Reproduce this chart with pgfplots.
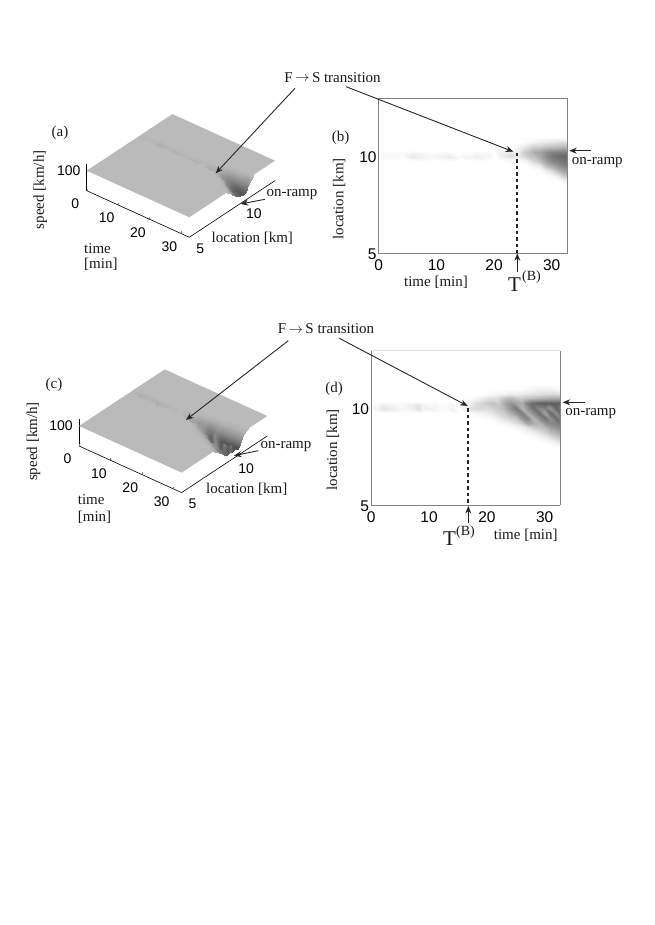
\documentclass[border=0pt]{standalone}
\usepackage{pgfplots}
\usepackage{pgfplotstable}
\usepackage{fontspec}
\pgfplotsset{compat=1.18}
\setmainfont{Liberation Serif}
\newfontfamily\ar{Liberation Sans}
\usetikzlibrary{arrows.meta}
\definecolor{plane}{RGB}{186,186,186}
\definecolor{frame}{RGB}{130,130,130}
\pgfplotstableread[row sep=\\]{t s v\\
0 9.75 100\\0 9.95 98\\0 10.15 99\\0 10.35 100\\
1 9.75 100\\1 9.95 96\\1 10.15 96\\1 10.35 100\\
2 9.75 100\\2 9.95 95\\2 10.15 97\\2 10.35 100\\
3 9.75 100\\3 9.95 96\\3 10.15 95\\3 10.35 100\\
4 9.75 100\\4 9.95 98\\4 10.15 96\\4 10.35 100\\
5 9.75 100\\5 9.95 92\\5 10.15 94\\5 10.35 100\\
6 9.75 100\\6 9.95 88\\6 10.15 90\\6 10.35 100\\
7 9.75 100\\7 9.95 90\\7 10.15 92\\7 10.35 100\\
8 9.75 100\\8 9.95 93\\8 10.15 95\\8 10.35 100\\
9 9.75 100\\9 9.95 96\\9 10.15 97\\9 10.35 100\\
10 9.75 100\\10 9.95 93\\10 10.15 95\\10 10.35 100\\
11 9.75 100\\11 9.95 93\\11 10.15 95\\11 10.35 100\\
12 9.75 100\\12 9.95 88\\12 10.15 94\\12 10.35 100\\
13 9.75 100\\13 9.95 92\\13 10.15 98\\13 10.35 100\\
14 9.75 100\\14 9.95 97\\14 10.15 99\\14 10.35 100\\
15 9.75 100\\15 9.95 92\\15 10.15 96\\15 10.35 100\\
16 9.75 100\\16 9.95 93\\16 10.15 97\\16 10.35 100\\
17 9.75 100\\17 9.95 91\\17 10.15 93\\17 10.35 100\\
18 9.75 100\\18 9.95 93\\18 10.15 95\\18 10.35 100\\
19 9.75 100\\19 9.95 95\\19 10.15 94\\19 10.35 100\\
20 9.75 100\\20 9.95 100\\20 10.15 100\\20 10.35 100\\
}\stripB
\pgfplotstableread[row sep=\\]{t s v\\
20 8.5 100\\20 8.75 100\\20 9 100\\20 9.25 100\\20 9.5 100\\20 9.75 100\\20 10 100\\20 10.25 100\\20 10.5 100\\20 10.75 100\\20 11 100\\
21 8.5 100\\21 8.75 100\\21 9 100\\21 9.25 100\\21 9.5 100\\21 9.75 100\\21 10 92\\21 10.25 92\\21 10.5 100\\21 10.75 100\\21 11 100\\
22 8.5 100\\22 8.75 100\\22 9 100\\22 9.25 100\\22 9.5 100\\22 9.75 98\\22 10 86\\22 10.25 90\\22 10.5 100\\22 10.75 100\\22 11 100\\
23 8.5 100\\23 8.75 100\\23 9 100\\23 9.25 100\\23 9.5 100\\23 9.75 97\\23 10 82\\23 10.25 88\\23 10.5 100\\23 10.75 100\\23 11 100\\
24 8.5 100\\24 8.75 100\\24 9 100\\24 9.25 100\\24 9.5 100\\24 9.75 100\\24 10 88\\24 10.25 92\\24 10.5 98\\24 10.75 100\\24 11 100\\
25 8.5 100\\25 8.75 100\\25 9 100\\25 9.25 100\\25 9.5 100\\25 9.75 96\\25 10 82\\25 10.25 78\\25 10.5 88\\25 10.75 100\\25 11 100\\
26 8.5 100\\26 8.75 100\\26 9 100\\26 9.25 100\\26 9.5 98\\26 9.75 88\\26 10 72\\26 10.25 70\\26 10.5 82\\26 10.75 96\\26 11 100\\
27 8.5 100\\27 8.75 100\\27 9 100\\27 9.25 100\\27 9.5 94\\27 9.75 80\\27 10 70\\27 10.25 62\\27 10.5 76\\27 10.75 92\\27 11 100\\
28 8.5 100\\28 8.75 100\\28 9 100\\28 9.25 98\\28 9.5 88\\28 9.75 70\\28 10 60\\28 10.25 58\\28 10.5 76\\28 10.75 90\\28 11 100\\
29 8.5 100\\29 8.75 100\\29 9 100\\29 9.25 90\\29 9.5 72\\29 9.75 56\\29 10 48\\29 10.25 50\\29 10.5 72\\29 10.75 88\\29 11 100\\
30 8.5 100\\30 8.75 100\\30 9 96\\30 9.25 82\\30 9.5 62\\30 9.75 46\\30 10 40\\30 10.25 44\\30 10.5 70\\30 10.75 86\\30 11 100\\
31 8.5 100\\31 8.75 100\\31 9 88\\31 9.25 70\\31 9.5 52\\31 9.75 42\\31 10 36\\31 10.25 42\\31 10.5 68\\31 10.75 84\\31 11 100\\
32 8.5 100\\32 8.75 94\\32 9 78\\32 9.25 60\\32 9.5 46\\32 9.75 38\\32 10 34\\32 10.25 42\\32 10.5 66\\32 10.75 82\\32 11 100\\
32.7 8.5 100\\32.7 8.75 90\\32.7 9 72\\32.7 9.25 54\\32.7 9.5 44\\32.7 9.75 38\\32.7 10 34\\32.7 10.25 42\\32.7 10.5 66\\32.7 10.75 84\\32.7 11 100\\
}\blockB
\pgfplotstableread[row sep=\\]{t s v\\
0 9.75 100\\0 9.95 98\\0 10.15 99\\0 10.35 100\\
1 9.75 100\\1 9.95 92\\1 10.15 96\\1 10.35 100\\
2 9.75 100\\2 9.95 86\\2 10.15 88\\2 10.35 100\\
3 9.75 100\\3 9.95 88\\3 10.15 92\\3 10.35 100\\
4 9.75 100\\4 9.95 90\\4 10.15 94\\4 10.35 100\\
5 9.75 100\\5 9.95 95\\5 10.15 95\\5 10.35 100\\
6 9.75 100\\6 9.95 94\\6 10.15 92\\6 10.35 100\\
7 9.75 100\\7 9.95 92\\7 10.15 90\\7 10.35 100\\
8 9.75 100\\8 9.95 84\\8 10.15 86\\8 10.35 100\\
9 9.75 100\\9 9.95 93\\9 10.15 92\\9 10.35 100\\
10 9.75 100\\10 9.95 92\\10 10.15 96\\10 10.35 100\\
11 9.75 100\\11 9.95 93\\11 10.15 94\\11 10.35 100\\
12 9.75 100\\12 9.95 98\\12 10.15 98\\12 10.35 100\\
13 9.75 100\\13 9.95 97\\13 10.15 98\\13 10.35 100\\
14 9.75 100\\14 9.95 92\\14 10.15 95\\14 10.35 100\\
15 9.75 100\\15 9.95 100\\15 10.15 100\\15 10.35 100\\
}\stripD
\pgfplotstableread[row sep=\\]{t s v\\
15 8 100\\15 8.25 100\\15 8.5 100\\15 8.75 100\\15 9 100\\15 9.25 100\\15 9.5 100\\15 9.75 100\\15 10 100\\15 10.25 100\\15 10.5 100\\15 10.75 100\\15 11 100\\15 11.25 100\\
16 8 100\\16 8.25 100\\16 8.5 100\\16 8.75 100\\16 9 100\\16 9.25 100\\16 9.5 100\\16 9.75 100\\16 10 92\\16 10.25 96\\16 10.5 100\\16 10.75 100\\16 11 100\\16 11.25 100\\
17 8 100\\17 8.25 100\\17 8.5 100\\17 8.75 100\\17 9 100\\17 9.25 100\\17 9.5 100\\17 9.75 98\\17 10 84\\17 10.25 92\\17 10.5 100\\17 10.75 100\\17 11 100\\17 11.25 100\\
18 8 100\\18 8.25 100\\18 8.5 100\\18 8.75 100\\18 9 100\\18 9.25 100\\18 9.5 100\\18 9.75 94\\18 10 82\\18 10.25 84\\18 10.5 96\\18 10.75 100\\18 11 100\\18 11.25 100\\
19 8 100\\19 8.25 100\\19 8.5 100\\19 8.75 100\\19 9 100\\19 9.25 100\\19 9.5 100\\19 9.75 92\\19 10 80\\19 10.25 80\\19 10.5 90\\19 10.75 100\\19 11 100\\19 11.25 100\\
20 8 100\\20 8.25 100\\20 8.5 100\\20 8.75 100\\20 9 100\\20 9.25 100\\20 9.5 98\\20 9.75 90\\20 10 82\\20 10.25 74\\20 10.5 86\\20 10.75 98\\20 11 100\\20 11.25 100\\
21 8 100\\21 8.25 100\\21 8.5 100\\21 8.75 100\\21 9 100\\21 9.25 100\\21 9.5 94\\21 9.75 86\\21 10 78\\21 10.25 72\\21 10.5 84\\21 10.75 96\\21 11 100\\21 11.25 100\\
22 8 100\\22 8.25 100\\22 8.5 100\\22 8.75 100\\22 9 100\\22 9.25 98\\22 9.5 90\\22 9.75 80\\22 10 74\\22 10.25 76\\22 10.5 82\\22 10.75 94\\22 11 100\\22 11.25 100\\
23 8 100\\23 8.25 100\\23 8.5 100\\23 8.75 100\\23 9 100\\23 9.25 94\\23 9.5 84\\23 9.75 76\\23 10 66\\23 10.25 62\\23 10.5 72\\23 10.75 92\\23 11 100\\23 11.25 100\\
24 8 100\\24 8.25 100\\24 8.5 100\\24 8.75 100\\24 9 98\\24 9.25 90\\24 9.5 78\\24 9.75 64\\24 10 52\\24 10.25 52\\24 10.5 68\\24 10.75 88\\24 11 100\\24 11.25 100\\
25 8 100\\25 8.25 100\\25 8.5 100\\25 8.75 100\\25 9 94\\25 9.25 84\\25 9.5 72\\25 9.75 52\\25 10 40\\25 10.25 58\\25 10.5 74\\25 10.75 90\\25 11 100\\25 11.25 100\\
26 8 100\\26 8.25 100\\26 8.5 100\\26 8.75 98\\26 9 90\\26 9.25 74\\26 9.5 52\\26 9.75 42\\26 10 66\\26 10.25 62\\26 10.5 76\\26 10.75 88\\26 11 98\\26 11.25 100\\
27 8 100\\27 8.25 100\\27 8.5 100\\27 8.75 94\\27 9 84\\27 9.25 58\\27 9.5 44\\27 9.75 64\\27 10 52\\27 10.25 44\\27 10.5 72\\27 10.75 86\\27 11 96\\27 11.25 100\\
28 8 100\\28 8.25 100\\28 8.5 98\\28 8.75 90\\28 9 76\\28 9.25 62\\28 9.5 66\\28 9.75 50\\28 10 36\\28 10.25 34\\28 10.5 70\\28 10.75 84\\28 11 94\\28 11.25 100\\
29 8 100\\29 8.25 100\\29 8.5 94\\29 8.75 84\\29 9 72\\29 9.25 66\\29 9.5 48\\29 9.75 36\\29 10 46\\29 10.25 30\\29 10.5 68\\29 10.75 84\\29 11 92\\29 11.25 100\\
30 8 100\\30 8.25 98\\30 8.5 90\\30 8.75 78\\30 9 66\\30 9.25 50\\30 9.5 38\\30 9.75 58\\30 10 42\\30 10.25 28\\30 10.5 64\\30 10.75 82\\30 11 92\\30 11.25 100\\
31 8 100\\31 8.25 94\\31 8.5 84\\31 8.75 70\\31 9 56\\31 9.25 46\\31 9.5 50\\31 9.75 34\\31 10 52\\31 10.25 30\\31 10.5 62\\31 10.75 82\\31 11 92\\31 11.25 100\\
32 8 98\\32 8.25 90\\32 8.5 76\\32 8.75 62\\32 9 50\\32 9.25 44\\32 9.5 36\\32 9.75 48\\32 10 32\\32 10.25 30\\32 10.5 62\\32 10.75 82\\32 11 94\\32 11.25 100\\
32.7 8 96\\32.7 8.25 86\\32.7 8.5 72\\32.7 8.75 58\\32.7 9 46\\32.7 9.25 40\\32.7 9.5 44\\32.7 9.75 36\\32.7 10 40\\32.7 10.25 30\\32.7 10.5 62\\32.7 10.75 84\\32.7 11 96\\32.7 11.25 100\\
}\blockD
\pgfplotsset{
  every axis/.append style={/pgf/number format/assume math mode=true},
  heat/.style={scale only axis, axis on top, width=188.6pt, height=155pt, xmin=0, xmax=32.7, ymin=5, ymax=13,
    anchor=south west, xtick={0,10,20,30}, ytick={5,10},
    major tick length=0pt, axis line style={frame, line width=0.7pt},
    tick label style={font=\ar\fontsize{15.5}{16}\selectfont},
    xticklabel style={anchor=center, yshift=-12pt},
    yticklabel style={anchor=east, inner sep=0pt, xshift=-2pt, yshift=-1pt},
    colormap={hb}{rgb255(0cm)=(50,50,50); rgb255(3cm)=(95,95,95); rgb255(5cm)=(145,145,145); rgb255(7cm)=(190,190,190); rgb255(9cm)=(238,238,238); rgb255(10cm)=(255,255,255)},
    point meta min=0, point meta max=100},
  dip/.style={surf, shader=interp, point meta=\thisrow{v}},
  persp/.style={disabledatascaling, anchor=origin, clip=false,
    x={(3.138pt,-1.425pt)}, y={(10.71pt,7.075pt)}, z={(0pt,0.2pt)},
    xmin=0, xmax=32.7, ymin=5, ymax=13, zmin=0, zmax=135,
    axis x line*=bottom, axis y line=none, axis z line*=left,
    xtick={0,10,20,30}, ytick=\empty, ztick={100},
    major tick length=2pt, axis line style={black, line width=0.6pt, -},
    tick label style={font=\ar\fontsize{14}{15}\selectfont},
    xticklabel style={anchor=center, xshift=-11.5pt, yshift=-13pt},
    zticklabel style={anchor=center, xshift=-18pt},
    colormap={ga}{rgb255(0cm)=(50,50,50); rgb255(3cm)=(78,78,78); rgb255(5cm)=(112,112,112); rgb255(7cm)=(145,145,145); rgb255(9cm)=(176,176,176); rgb255(10cm)=(186,186,186)},
    point meta min=0, point meta max=100},
  yax/.style={black, line width=0.6pt, no marks},
}
\tikzset{lab/.style={font=\fontsize{15}{15}\selectfont, inner sep=0pt, text=black!90, yshift=-1.5pt},
  loc/.style={font=\ar\fontsize{14}{15}\selectfont, inner sep=0pt, xshift=11pt, yshift=-11.5pt},
  arr/.style={-{Stealth[length=7.5pt,width=6pt]}, line width=0.9pt, black!85},
  dsh/.style={black!85, line width=1.8pt, dash pattern=on 3.5pt off 3pt}}
\newcommand\FS{F\raisebox{0.5pt}{\,$\rightarrow$\,}S transition}
\begin{document}
\begin{tikzpicture}[x=1pt,y=1pt]
\path[use as bounding box] (0,0) rectangle (654,925);
% (a)
\begin{axis}[persp, at={(86.7pt,734.3pt)}]
\addplot3[fill=plane, draw=none] coordinates {(0,5,100) (32.7,5,100) (32.7,13,100) (0,13,100)};
\addplot3[dip, mesh/rows=4, mesh/cols=21, mesh/ordering=y varies] table[x=t,y=s,z=v] {\stripB};
\addplot3[dip, z buffer=sort, mesh/rows=11, mesh/cols=14, mesh/ordering=y varies] table[x=t,y=s,z=v] {\blockB};
\addplot3[yax] coordinates {(32.7,5,0) (32.7,13,0)};
\node[loc] at (axis cs:32.7,5,0) {5};
\node[loc] at (axis cs:32.7,10,0) {10};
\end{axis}
% (b)
\begin{axis}[heat, at={(378.7pt,671.7pt)}]
\addplot[dip, mesh/rows=4, mesh/cols=21, mesh/ordering=y varies] table[x=t,y=s] {\stripB};
\addplot[dip, mesh/rows=11, mesh/cols=14, mesh/ordering=y varies] table[x=t,y=s] {\blockB};
\end{axis}
% (c)
\begin{axis}[persp, at={(79pt,479pt)}]
\addplot3[fill=plane, draw=none] coordinates {(0,5,100) (32.7,5,100) (32.7,13,100) (0,13,100)};
\addplot3[dip, mesh/rows=4, mesh/cols=16, mesh/ordering=y varies] table[x=t,y=s,z=v] {\stripD};
\addplot3[dip, z buffer=sort, mesh/rows=14, mesh/cols=19, mesh/ordering=y varies] table[x=t,y=s,z=v] {\blockD};
\addplot3[yax] coordinates {(32.7,5,0) (32.7,13,0)};
\node[loc] at (axis cs:32.7,5,0) {5};
\node[loc] at (axis cs:32.7,10,0) {10};
\end{axis}
% (d)
\begin{axis}[heat, at={(371.3pt,420pt)}, width=189pt, axis x line*=bottom, axis y line*=left, axis line style={-}]
\addplot[dip, mesh/rows=4, mesh/cols=16, mesh/ordering=y varies] table[x=t,y=s] {\stripD};
\addplot[dip, mesh/rows=14, mesh/cols=19, mesh/ordering=y varies] table[x=t,y=s] {\blockD};
\end{axis}
\begin{scope}[y=-1pt, yshift=925pt]
% frame of (d)
\draw[frame, line width=0.7pt] (560.3,350.7) -- (560.3,505);
\draw[black!12, line width=0.7pt] (371.3,350.7) -- (560.3,350.7);
% titles
\node[lab] at (332.5,76) {\FS};
\node[lab] at (326,327.5) {\FS};
% (a)
\node[lab] at (60,131) {(a)};
\node[lab, rotate=90, yshift=1.5pt] at (41.7,188.3) {speed [km/h]};
\node[lab, anchor=west] at (84,246.7) {time};
\node[lab, anchor=west] at (84,263.3) {[min]};
\node[lab] at (252.3,236.7) {location [km]};
\node[lab] at (292,193.3) {on-ramp};
\draw[arr] (265,199.3) -- (240.7,204);
\draw[arr] (295,88.3) -- (215.7,173.3);
% (b)
\node[lab] at (340.7,136) {(b)};
\node[lab, rotate=90, yshift=1.5pt] at (340.7,197.3) {location [km]};
\node[lab] at (436,280.7) {time [min]};
\node[lab, font=\fontsize{21}{21}\selectfont] at (514.5,282.7) {T};
\node[lab, font=\fontsize{14}{14}\selectfont] at (531.5,276) {(B)};
\draw[arr] (517.3,271.7) -- (517.3,253.3);
\draw[dsh] (517.3,152.7) -- (517.3,253);
\draw[arr] (346,86.7) -- (513.3,151.7);
\draw[arr] (590.7,150.7) -- (569.3,150.7);
\node[lab] at (597.3,161.5) {on-ramp};
% (c)
\node[lab] at (54,383.3) {(c)};
\node[lab, rotate=90, yshift=1.5pt] at (35,440) {speed [km/h]};
\node[lab, anchor=west] at (77.7,498.3) {time};
\node[lab, anchor=west] at (77.7,516) {[min]};
\node[lab] at (246.7,488.3) {location [km]};
\node[lab] at (286,445) {on-ramp};
\draw[arr] (258.3,450.7) -- (234,455.7);
\draw[arr] (288.3,340.7) -- (186,420);
% (d)
\node[lab] at (334,387.3) {(d)};
\node[lab, rotate=90, yshift=1.5pt] at (334.3,448.3) {location [km]};
\node[lab] at (525.7,534) {time [min]};
\node[lab, font=\fontsize{21}{21}\selectfont] at (449.5,537.3) {T};
\node[lab, font=\fontsize{14}{14}\selectfont] at (465.5,531) {(B)};
\draw[arr] (468.3,523.3) -- (468.3,506);
\draw[dsh] (468.3,408.3) -- (468.3,505);
\draw[arr] (339.3,338.3) -- (467.7,406);
\draw[arr] (585,402.3) -- (562.7,402.3);
\node[lab] at (590.7,412.5) {on-ramp};
\end{scope}
\end{tikzpicture}
\end{document}
